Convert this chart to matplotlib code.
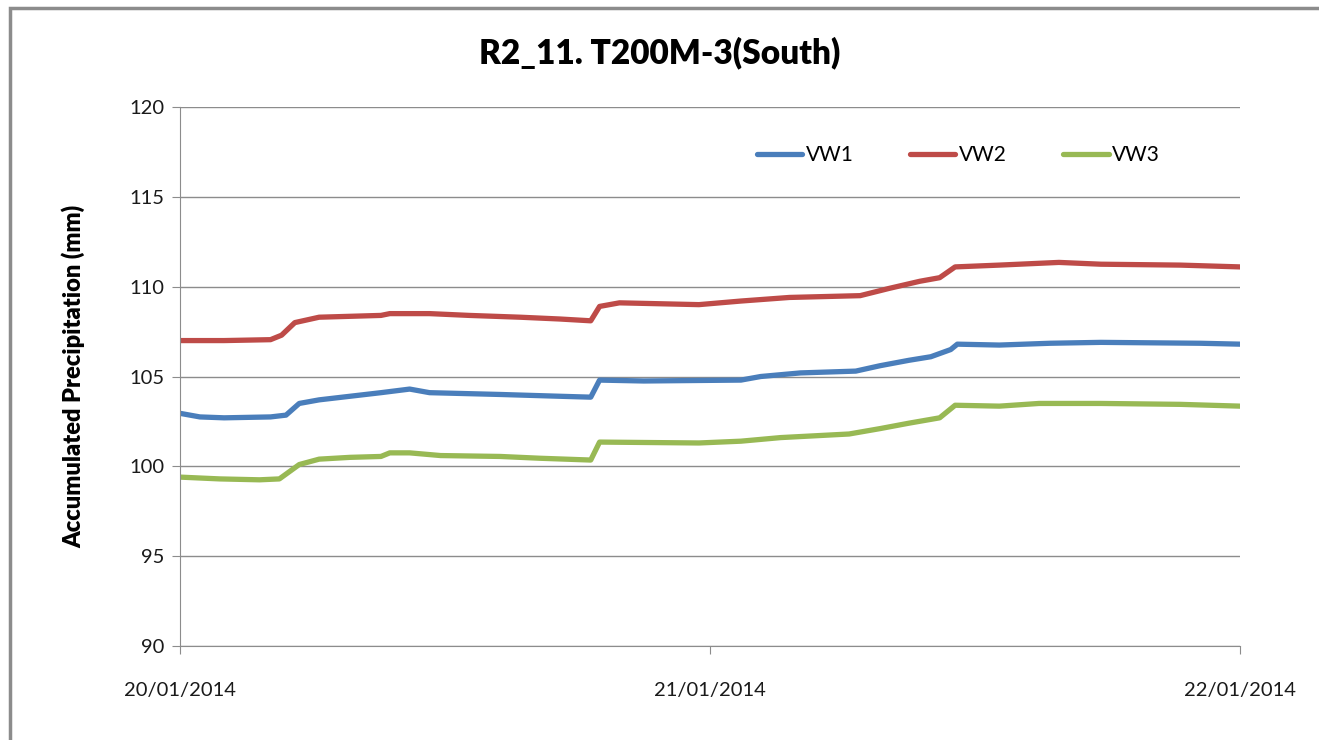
import numpy as np
import pandas as pd
import matplotlib
matplotlib.use('Agg')
import matplotlib.pyplot as plt
import matplotlib.dates as mdates
from matplotlib.patches import Rectangle

# readings: hours after 20/01/2014 00:00 and value (mm)
vw1_h = [0, 0.9, 2, 4.1, 4.8, 5.4, 6.3, 7.7, 9.1, 10.4, 11.3, 14.5, 17.2, 18.6, 19.0, 21, 25.4, 26.3, 28.1, 30.6, 31.7, 33.0, 34.0, 34.9, 35.2, 37.1, 39.4, 41.7, 46.2, 48]
vw1_v = [102.95, 102.75, 102.7, 102.75, 102.85, 103.5, 103.7, 103.9, 104.1, 104.3, 104.1, 104.0, 103.9, 103.85, 104.8, 104.75, 104.8, 105.0, 105.2, 105.3, 105.6, 105.9, 106.1, 106.5, 106.8, 106.75, 106.85, 106.9, 106.85, 106.8]

vw2_h = [0, 2, 4.1, 4.6, 5.2, 6.3, 9.1, 9.5, 11.3, 13.1, 15.4, 17.2, 18.6, 19.0, 19.9, 23.5, 25.4, 27.6, 30.8, 32.1, 33.5, 34.4, 35.1, 37.1, 39.8, 41.7, 45.3, 48]
vw2_v = [107.0, 107.0, 107.05, 107.3, 108.0, 108.3, 108.4, 108.5, 108.5, 108.4, 108.3, 108.2, 108.1, 108.9, 109.1, 109.0, 109.2, 109.4, 109.5, 109.9, 110.3, 110.5, 111.1, 111.2, 111.35, 111.25, 111.2, 111.1]

vw3_h = [0, 1.8, 3.6, 4.5, 5.4, 6.3, 7.7, 9.1, 9.5, 10.4, 11.8, 14.5, 16.3, 18.6, 19.0, 23.5, 25.4, 27.2, 30.3, 31.7, 33.0, 34.4, 35.1, 37.1, 38.9, 41.7, 45.3, 48]
vw3_v = [99.4, 99.3, 99.25, 99.3, 100.1, 100.4, 100.5, 100.55, 100.75, 100.75, 100.6, 100.55, 100.45, 100.35, 101.35, 101.3, 101.4, 101.6, 101.8, 102.1, 102.4, 102.7, 103.4, 103.35, 103.5, 103.5, 103.45, 103.35]

series_names = ['VW1', 'VW2', 'VW3']
series_colors = ['#4a7ebb', '#be4b48', '#98b954']
start = pd.Timestamp('2014-01-20')

plt.rcParams['font.family'] = ['Lato', 'DejaVu Sans']

fig = plt.figure(figsize=(13.19, 7.40), dpi=100)
fig.patches.append(Rectangle((10/1319, -0.1), 1.2, (740-8)/740 + 0.1, transform=fig.transFigure,
                             fill=False, edgecolor='#8c8c8c', linewidth=2.5))
ax = fig.add_axes([180/1319, 1 - 646/740, 1060/1319, 539/740])

for h, v, name, c in zip([vw1_h, vw2_h, vw3_h], [vw1_v, vw2_v, vw3_v], series_names, series_colors):
    t = start + pd.to_timedelta(h, unit='h')
    ax.plot(t, v, color=c, linewidth=3.8, label=name, solid_capstyle='round')

ax.set_ylim(90, 120)
ax.set_yticks(range(90, 121, 5))
ax.set_xlim(start, start + pd.Timedelta(hours=48))
ax.xaxis.set_major_locator(mdates.DayLocator())
ax.xaxis.set_major_formatter(mdates.DateFormatter('%d/%m/%Y'))
ax.grid(axis='y', color='#8c8c8c', linewidth=1)
ax.set_axisbelow(True)
for s in ['top', 'right']:
    ax.spines[s].set_visible(False)
for s in ['left', 'bottom']:
    ax.spines[s].set_color('#8c8c8c')
ax.tick_params(axis='both', colors='#8c8c8c', labelcolor='#1a1a1a', labelsize=14.5, length=6)
ax.tick_params(axis='x', pad=20)
ax.tick_params(axis='y', pad=5)
ax.set_ylabel('Accumulated Precipitation (mm)', fontsize=17, fontweight='heavy', labelpad=32)
fig.suptitle('R2_11. T200M-3(South)', fontsize=24, fontweight='heavy', y=1 - 53/740, va='center')

ax.legend(loc='center', bbox_to_anchor=(958/1319, 1 - 155/740), bbox_transform=fig.transFigure,
          ncol=3, frameon=False, fontsize=15, handlelength=2.2, handletextpad=0.15, columnspacing=2.7)

fig.savefig('out.png', dpi=100)
